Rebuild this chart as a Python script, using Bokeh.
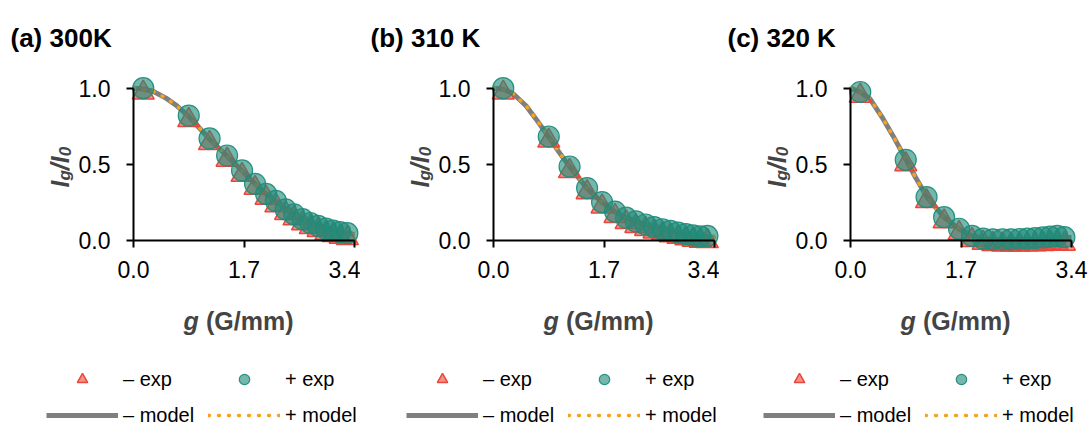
import numpy as np
from bokeh.plotting import figure
from bokeh.models import Range1d, FixedTicker, PrintfTickFormatter, Label, Legend, LegendItem, ColumnDataSource
from bokeh.layouts import row
from bokeh.transform import dodge
from bokeh.embed import file_html
from bokeh.resources import INLINE

# ---------------- data ----------------
g = [0.15, 0.85, 1.17, 1.44, 1.67, 1.87, 2.04, 2.19, 2.34, 2.47, 2.60, 2.72, 2.84, 2.96, 3.07, 3.18, 3.29]

a_minus = [0.99, 0.81, 0.66, 0.55, 0.45, 0.365, 0.30, 0.25, 0.20, 0.165, 0.132, 0.107, 0.088, 0.068, 0.055, 0.044, 0.035]
a_plus = [1.00, 0.82, 0.67, 0.558, 0.46, 0.372, 0.306, 0.26, 0.205, 0.172, 0.14, 0.115, 0.096, 0.078, 0.065, 0.055, 0.048]

b_minus = [0.99, 0.675, 0.476, 0.336, 0.243, 0.18, 0.14, 0.115, 0.095, 0.078, 0.064, 0.053, 0.043, 0.033, 0.024, 0.018, 0.015]
b_plus = [1.00, 0.683, 0.486, 0.344, 0.252, 0.19, 0.15, 0.125, 0.105, 0.088, 0.074, 0.063, 0.052, 0.042, 0.033, 0.027, 0.030]

c_minus = [0.97, 0.52, 0.278, 0.145, 0.068, 0.022, 0.004, -0.004, -0.007, -0.008, -0.007, -0.006, -0.005, -0.004, -0.002, 0.0, -0.002]
c_plus = [0.975, 0.53, 0.285, 0.153, 0.077, 0.030, 0.012, 0.008, 0.007, 0.008, 0.010, 0.012, 0.015, 0.020, 0.025, 0.030, 0.022]

model_g = [0.0, 0.15, 0.3, 0.5, 0.65, 0.85, 1.0, 1.17, 1.44, 1.67, 1.87, 2.04, 2.19, 2.34,
           2.47, 2.60, 2.72, 2.84, 2.96, 3.07, 3.18, 3.29, 3.4]
a_model = [1.0, 0.995, 0.98, 0.935, 0.89, 0.815, 0.745, 0.665, 0.555, 0.458, 0.372, 0.306,
           0.258, 0.207, 0.172, 0.141, 0.116, 0.097, 0.078, 0.065, 0.054, 0.047, 0.040]
b_model = [1.0, 0.993, 0.965, 0.885, 0.80, 0.68, 0.585, 0.485, 0.342, 0.25, 0.188, 0.15,
           0.124, 0.103, 0.087, 0.073, 0.062, 0.052, 0.042, 0.034, 0.028, 0.025, 0.022]
c_model = [1.0, 0.975, 0.93, 0.80, 0.69, 0.535, 0.415, 0.29, 0.152, 0.076, 0.03, 0.012,
           0.006, 0.005, 0.005, 0.006, 0.008, 0.010, 0.013, 0.017, 0.020, 0.020, 0.020]

titles = ["(a) 300K", "(b) 310 K", "(c) 320 K"]
x_ticks = [0.0, 1.7, 3.4]
y_ticks = [0.0, 0.5, 1.0]

panels = [
    dict(title=titles[0], minus=a_minus, plus=a_plus, model=a_model, fig_w=360, ox=133, tx=10),
    dict(title=titles[1], minus=b_minus, plus=b_plus, model=b_model, fig_w=359, ox=133, tx=10),
    dict(title=titles[2], minus=c_minus, plus=c_plus, model=c_model, fig_w=372, ox=131, tx=8),
]

# ---------------- style / layout ----------------
FONT = "Liberation Sans"
H = 428
SX = 65.0      # px per G/mm
SY = 152.3     # px per unit of I/I0
OY = 240.0     # canvas y of I/I0 = 0
RED = "#e8473c"
TEAL = "#1f8c7b"
GRAY = "#7f7f7f"
ORANGE = "#f5a21e"

figs = []
for pdef in panels:
    W = pdef["fig_w"]
    ox = pdef["ox"]
    x0 = -ox / SX
    y1 = OY / SY
    p = figure(width=W, height=H, output_backend="svg", toolbar_location=None,
               x_range=Range1d(x0, x0 + W / SX), y_range=Range1d(y1 - H / SY, y1),
               frame_width=W, frame_height=H,
               min_border=0, min_border_left=0, min_border_right=0,
               min_border_top=0, min_border_bottom=0)
    p.outline_line_color = None
    p.xgrid.visible = False
    p.ygrid.visible = False
    p.background_fill_color = "white"
    p.border_fill_color = "white"

    def dx(px):
        return x0 + px / SX

    def dy(py):
        return y1 - py / SY

    src_m = ColumnDataSource(dict(x=model_g, y=pdef["model"]))
    src_e = ColumnDataSource(dict(x=g, ym=pdef["minus"], yp=pdef["plus"]))

    gl = p.line("x", "y", source=src_m, line_color=GRAY, line_width=5)
    ol = p.line("x", "y", source=src_m, line_color=ORANGE, line_width=3.5,
                line_dash="1 9", line_cap="round")
    tri = p.scatter("x", dodge("ym", -0.02, range=p.y_range), source=src_e, marker="triangle",
                    size=22, fill_color=RED, fill_alpha=0.6, line_color=RED, line_width=1.5)
    cir = p.scatter("x", "yp", source=src_e, marker="circle", size=21,
                    fill_color=TEAL, fill_alpha=0.62, line_color=TEAL, line_alpha=0.95, line_width=1.2)

    for ax, ticks, bounds in ((p.xaxis, x_ticks, (0, 3.4)), (p.yaxis, y_ticks, (0, 1.0))):
        ax.ticker = FixedTicker(ticks=ticks)
        ax.formatter = PrintfTickFormatter(format="%.1f")
        ax.bounds = bounds
        ax.fixed_location = 0
        ax.axis_line_color = "black"
        ax.axis_line_width = 2
        ax.major_tick_line_color = "black"
        ax.major_tick_line_width = 2
        ax.major_tick_out = 7
        ax.major_tick_in = 0
        ax.minor_tick_line_color = None
        ax.major_label_text_font = FONT
        ax.major_label_text_font_size = "23px"
        ax.major_label_text_color = "black"
    p.yaxis.major_label_standoff = 16
    p.xaxis.major_label_standoff = 13

    # panel title
    p.add_layout(Label(x=dx(pdef["tx"]), y=dy(37), text=pdef["title"],
                       text_font=FONT, text_font_size="26px", text_font_style="bold",
                       text_color="black", text_baseline="alphabetic", text_align="left"))

    # x axis title: "g (G/mm)"
    xl0 = ox + 50
    p.add_layout(Label(x=dx(xl0), y=dy(320), text="g", text_font=FONT, text_font_size="25px",
                       text_font_style="bold italic", text_baseline="alphabetic", text_align="left"))
    p.add_layout(Label(x=dx(xl0 + 22.5), y=dy(320), text="(G/mm)", text_font=FONT,
                       text_font_size="25px", text_font_style="bold",
                       text_baseline="alphabetic", text_align="left"))

    # y axis title: I_g / I_0 (rotated)
    bx = ox - 74
    parts = [("I", 25, 0, 0.278), ("g", 17, 5, 0.611), ("/", 25, 0, 0.278), ("I", 25, 0, 0.278), ("0", 17, 5, 0.556)]
    ycur = 187
    for txt, fs, shift, wem in parts:
        p.add_layout(Label(x=dx(bx + shift), y=dy(ycur), text=txt, angle=np.pi / 2,
                           text_font=FONT, text_font_size=f"{fs}px", text_font_style="bold italic",
                           text_baseline="alphabetic", text_align="left"))
        ycur -= fs * wem

    legend = Legend(items=[LegendItem(label="– exp", renderers=[tri]),
                           LegendItem(label="– model", renderers=[gl]),
                           LegendItem(label="+ exp", renderers=[cir]),
                           LegendItem(label="+ model", renderers=[ol])],
                    location=(ox - 87, 0), ncols=2,
                    glyph_width=72, glyph_height=26, label_height=26, label_width=75,
                    label_standoff=5,
                    spacing=10, padding=0, margin=0, border_line_color=None,
                    background_fill_alpha=0, label_text_font=FONT, label_text_font_size="20px",
                    label_text_color="black")
    p.add_layout(legend)
    figs.append(p)

layout = row(*figs)
open("out.html", "w").write(file_html(layout, INLINE))
